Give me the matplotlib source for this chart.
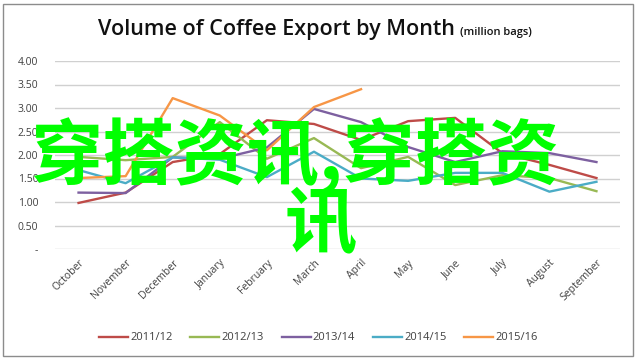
import matplotlib
matplotlib.use("Agg")
import matplotlib.pyplot as plt
from matplotlib.patches import Rectangle

months = ["October", "November", "December", "January", "February", "March",
          "April", "May", "June", "July", "August", "September"]

s_2011 = [0.98, 1.20, 1.85, 2.02, 2.74, 2.66, 2.32, 2.72, 2.79, 2.04, 1.79, 1.51]
s_2012 = [1.96, 1.89, 1.96, 2.70, 1.92, 2.36, 1.72, 1.96, 1.36, 1.57, 1.51, 1.23]
s_2013 = [1.20, 1.19, 1.95, 1.92, 2.16, 2.98, 2.70, 2.17, 1.85, 2.08, 2.04, 1.85]
s_2014 = [1.68, 1.40, 1.95, 1.90, 1.53, 2.07, 1.50, 1.45, 1.62, 1.62, 1.22, 1.43]
s_2015 = [1.51, 1.55, 3.21, 2.84, 2.10, 3.02, 3.40]

series = [
    ("2011/12", s_2011, "#BE4B48"),
    ("2012/13", s_2012, "#98B954"),
    ("2013/14", s_2013, "#7D60A0"),
    ("2014/15", s_2014, "#4BACC6"),
    ("2015/16", s_2015, "#F79646"),
]

yticks = [0, 0.5, 1.0, 1.5, 2.0, 2.5, 3.0, 3.5, 4.0]
ylabels = ["-"] + ["%.2f" % v for v in yticks[1:]]

plt.rcParams['font.family'] = ['Open Sans', 'DejaVu Sans']

fig = plt.figure(figsize=(6.37, 3.60), dpi=100)
ax = fig.add_axes([55 / 637, 1 - 249 / 360, 565 / 637, 188 / 360])

# rahmen
fig.patches.append(Rectangle((3 / 637, 4 / 360), 630 / 637, 352 / 360,
                             transform=fig.transFigure, fill=False,
                             edgecolor="#8c8c8c", linewidth=1.0))

x = list(range(len(months)))
for name, vals, col in series:
    ax.plot(x[:len(vals)], vals, color=col, linewidth=1.7, label=name)

ax.set_xlim(-0.5, len(months) - 0.5)
ax.set_ylim(0, 4.0)
ax.set_yticks(yticks)
ax.set_yticklabels(ylabels, fontsize=7.5, color="#404040")
ax.set_xticks(x)
ax.set_xticklabels(months, rotation=45, ha="right", rotation_mode="anchor",
                   fontsize=7.5, color="#404040")
ax.grid(axis="y", color="#d0d0d0", linewidth=1.0)
ax.set_axisbelow(True)
for sp in ax.spines.values():
    sp.set_visible(False)
ax.tick_params(axis="both", length=0, pad=12)
ax.tick_params(axis="x", pad=6)

fig.text(455 / 637, 1 - 30 / 360, "Volume of Coffee Export by Month",
         ha="right", va="center", fontsize=15.5, color="#111111",
         fontweight="semibold")
fig.text(460 / 637, 1 - 32 / 360, "(million bags)", ha="left", va="center",
         fontsize=8, color="#111111", fontweight="semibold")

fig.legend(loc="center", bbox_to_anchor=(0.5, 1 - 338 / 360), ncol=5,
           frameon=False, fontsize=8, handlelength=2.6, handletextpad=0.2,
           columnspacing=1.6, labelcolor="#404040")

# gruener ueberlagerungstext
wm = ["Noto Sans CJK SC", "DejaVu Sans"]
fig.text(295 / 637, 1 - 156 / 360, "穿搭资讯,穿搭资", ha="center", va="center",
         fontsize=52, color="#00FF00", fontweight="bold", family=wm)
fig.text(321 / 637, 1 - 226 / 360, "讯", ha="center", va="center",
         fontsize=52, color="#00FF00", fontweight="bold", family=wm)

fig.savefig("out.png", dpi=100)
